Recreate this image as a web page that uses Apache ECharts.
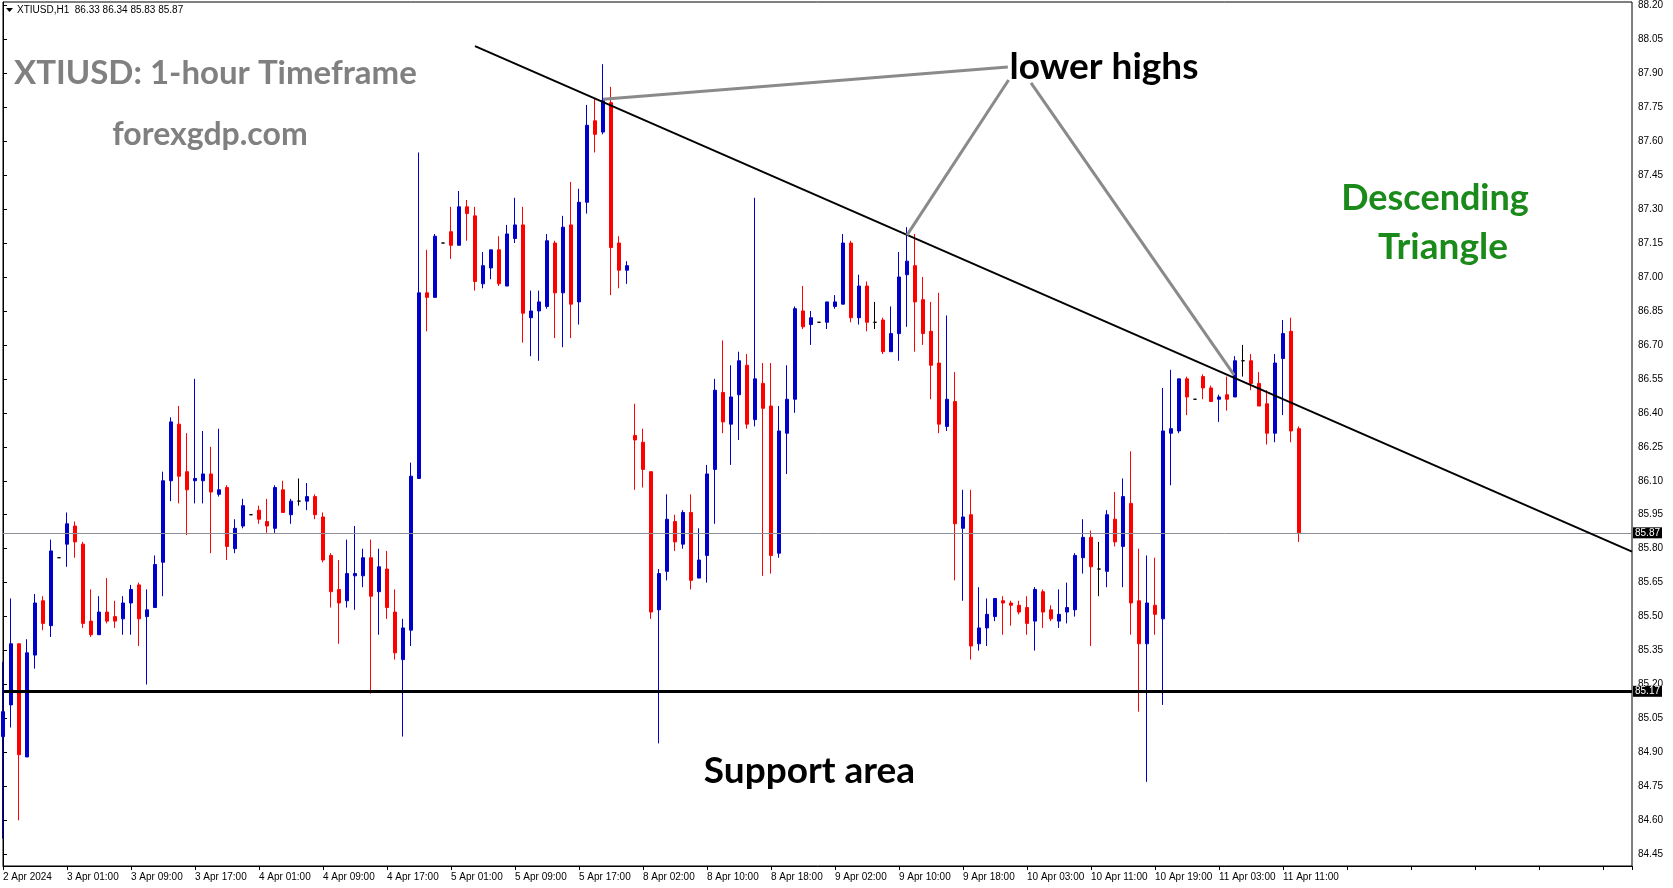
<!DOCTYPE html>
<html>
<head>
<meta charset="utf-8">
<title>XTIUSD H1</title>
<script src="https://cdn.jsdelivr.net/npm/echarts@6/dist/echarts.min.js"></script>
<style>
  html, body { margin: 0; padding: 0; background: #fff; }
  #chart { width: 1673px; height: 888px; }
</style>
</head>
<body>
<div id="chart"></div>
<script>
// H1 bars, bar 0 = 2 Apr 17:00
const openPrices = [
  84.97, 85.11, 85.38, 84.88, 85.33, 85.57, 85.46, 85.76, 85.82, 85.90,
  85.82, 85.48, 85.42, 85.52, 85.50, 85.49, 85.56, 85.64, 85.50, 85.54,
  85.74, 86.10, 86.35, 86.14, 86.10, 86.10, 86.13, 86.04, 86.07, 85.80,
  85.90, 85.95, 85.97, 85.92, 85.89, 86.06, 85.95, 86.01, 86.01, 86.03,
  85.94, 85.77, 85.62, 85.57, 85.68, 85.68, 85.76, 85.61, 85.71, 85.52,
  85.31, 85.44, 86.11, 86.93, 86.91, 87.15, 87.20, 87.14, 87.31, 87.27,
  86.97, 87.04, 87.12, 86.96, 87.17, 87.23, 86.82, 86.85, 86.87, 87.15,
  86.93, 87.23, 86.89, 87.33, 87.69, 87.64, 87.77, 87.15, 87.03, 86.30,
  86.27, 86.14, 85.53, 85.70, 85.92, 85.82, 85.96, 85.67, 85.77, 86.15,
  86.49, 86.35, 86.48, 86.61, 86.37, 86.53, 86.43, 85.78, 86.31, 86.46,
  86.85, 86.79, 86.80, 86.80, 86.87, 86.88, 87.15, 86.82, 86.96, 86.80,
  86.81, 86.67, 86.75, 87.01, 87.05, 86.90, 86.76, 86.62, 86.34, 86.45,
  85.89, 85.95, 85.38, 85.45, 85.50, 85.57, 85.56, 85.55, 85.54, 85.48,
  85.61, 85.53, 85.48, 85.52, 85.53, 85.76, 85.85, 85.71, 85.70, 85.93,
  85.81, 86.00, 85.57, 85.38, 85.55, 85.49, 86.31, 86.32, 86.55, 86.46,
  86.56, 86.51, 86.46, 86.48, 86.47, 86.63, 86.63, 86.53, 86.44, 86.31,
  86.64, 86.76, 86.33
];
const closePrices = [
  85.08, 85.38, 84.89, 85.34, 85.56, 85.47, 85.79, 85.76, 85.91, 85.83,
  85.47, 85.42, 85.52, 85.48, 85.48, 85.56, 85.62, 85.49, 85.53, 85.73,
  86.10, 86.36, 86.12, 86.06, 86.11, 86.13, 86.05, 86.06, 85.81, 85.89,
  85.99, 85.95, 85.93, 85.90, 86.07, 85.96, 86.01, 86.01, 86.03, 85.95,
  85.75, 85.61, 85.56, 85.69, 85.69, 85.76, 85.59, 85.72, 85.54, 85.34,
  85.45, 86.12, 86.93, 86.91, 87.18, 87.15, 87.14, 87.31, 87.28, 86.98,
  87.05, 87.12, 86.97, 87.19, 87.23, 86.84, 86.85, 86.89, 87.16, 86.93,
  87.22, 86.88, 87.33, 87.67, 87.63, 87.78, 87.13, 87.03, 87.05, 86.28,
  86.15, 85.52, 85.69, 85.93, 85.83, 85.96, 85.66, 85.75, 86.13, 86.50,
  86.36, 86.47, 86.63, 86.35, 86.55, 86.42, 85.77, 86.32, 86.46, 86.86,
  86.78, 86.82, 86.80, 86.89, 86.89, 87.15, 86.82, 86.96, 86.80, 86.80,
  86.67, 86.75, 87.00, 87.07, 86.89, 86.75, 86.61, 86.35, 86.46, 85.91,
  85.94, 85.37, 85.45, 85.51, 85.58, 85.56, 85.55, 85.52, 85.47, 85.62,
  85.52, 85.49, 85.51, 85.54, 85.77, 85.85, 85.72, 85.71, 85.95, 85.83,
  86.03, 85.56, 85.38, 85.56, 85.51, 86.32, 86.33, 86.55, 86.47, 86.46,
  86.51, 86.45, 86.47, 86.46, 86.63, 86.63, 86.53, 86.43, 86.31, 86.62,
  86.75, 86.32, 85.87
];
const lowPrices = [
  84.52, 85.01, 84.60, 84.88, 85.27, 85.44, 85.41, 85.76, 85.72, 85.76,
  85.45, 85.41, 85.42, 85.47, 85.45, 85.42, 85.42, 85.37, 85.20, 85.54,
  85.59, 86.01, 86.00, 85.86, 86.00, 86.00, 85.78, 86.03, 85.75, 85.78,
  85.89, 85.95, 85.91, 85.87, 85.87, 85.96, 85.91, 85.99, 85.97, 85.93,
  85.74, 85.54, 85.38, 85.54, 85.53, 85.63, 85.16, 85.42, 85.49, 85.31,
  84.97, 85.37, 86.11, 86.76, 86.91, 87.15, 87.08, 87.14, 87.16, 86.94,
  86.95, 86.99, 86.96, 86.96, 87.15, 86.71, 86.65, 86.63, 86.86, 86.73,
  86.69, 86.73, 86.79, 87.28, 87.55, 87.63, 86.92, 86.95, 86.97, 86.06,
  86.07, 85.49, 84.94, 85.66, 85.79, 85.80, 85.62, 85.67, 85.65, 85.91,
  86.31, 86.17, 86.28, 86.33, 86.34, 85.68, 85.69, 85.76, 86.13, 86.40,
  86.77, 86.70, 86.80, 86.77, 86.86, 86.88, 86.80, 86.79, 86.76, 86.77,
  86.66, 86.67, 86.63, 86.78, 86.67, 86.70, 86.46, 86.31, 86.32, 85.66,
  85.57, 85.31, 85.35, 85.37, 85.48, 85.42, 85.46, 85.51, 85.42, 85.35,
  85.45, 85.48, 85.45, 85.47, 85.50, 85.69, 85.37, 85.59, 85.63, 85.81,
  85.63, 85.42, 85.08, 84.77, 85.42, 85.11, 86.08, 86.31, 86.39, 86.46,
  86.46, 86.45, 86.36, 86.41, 86.47, 86.56, 86.50, 86.43, 86.26, 86.27,
  86.39, 86.27, 85.83
];
const highPrices = [
  85.30, 85.58, 85.38, 85.40, 85.60, 85.59, 85.84, 85.76, 85.96, 85.92,
  85.83, 85.62, 85.59, 85.67, 85.57, 85.59, 85.64, 85.65, 85.62, 85.77,
  86.14, 86.38, 86.43, 86.31, 86.55, 86.32, 86.25, 86.33, 86.08, 85.93,
  86.02, 85.95, 85.99, 86.02, 86.08, 86.10, 86.02, 86.11, 86.09, 86.04,
  85.96, 85.78, 85.75, 85.84, 85.90, 85.80, 85.84, 85.80, 85.79, 85.62,
  85.49, 86.18, 87.55, 87.12, 87.19, 87.15, 87.31, 87.38, 87.34, 87.31,
  87.11, 87.12, 87.18, 87.23, 87.35, 87.31, 86.94, 86.94, 87.19, 87.16,
  87.27, 87.42, 87.39, 87.76, 87.79, 87.94, 87.84, 87.18, 87.07, 86.44,
  86.33, 86.14, 85.71, 86.04, 85.95, 85.97, 86.04, 85.89, 86.17, 86.55,
  86.72, 86.61, 86.67, 86.66, 87.35, 86.62, 86.62, 86.43, 86.61, 86.87,
  86.96, 86.85, 86.80, 86.89, 86.92, 87.19, 87.16, 87.01, 86.98, 86.89,
  86.82, 86.87, 87.11, 87.22, 87.19, 87.00, 86.89, 86.93, 86.83, 86.58,
  86.06, 86.06, 85.63, 85.58, 85.58, 85.59, 85.57, 85.57, 85.59, 85.63,
  85.62, 85.55, 85.62, 85.65, 85.78, 85.93, 85.88, 85.83, 85.97, 86.05,
  86.11, 86.23, 85.80, 85.77, 85.76, 86.51, 86.59, 86.55, 86.56, 86.46,
  86.57, 86.52, 86.48, 86.56, 86.65, 86.70, 86.66, 86.58, 86.50, 86.66,
  86.81, 86.82, 86.34
];

// one label every 8 bars
const timeLabels = [
  '2 Apr 2024', '3 Apr 01:00', '3 Apr 09:00', '3 Apr 17:00', '4 Apr 01:00',
  '4 Apr 09:00', '4 Apr 17:00', '5 Apr 01:00', '5 Apr 09:00', '5 Apr 17:00',
  '8 Apr 02:00', '8 Apr 10:00', '8 Apr 18:00', '9 Apr 02:00', '9 Apr 10:00',
  '9 Apr 18:00', '10 Apr 03:00', '10 Apr 11:00', '10 Apr 19:00', '11 Apr 03:00',
  '11 Apr 11:00'
];
const priceTicks = [
  84.45, 84.60, 84.75, 84.90, 85.05, 85.20, 85.35, 85.50, 85.65, 85.80,
  85.95, 86.10, 86.25, 86.40, 86.55, 86.70, 86.85, 87.00, 87.15, 87.30,
  87.45, 87.60, 87.75, 87.90, 88.05, 88.20
];

const supportLevel = 85.17;
const lastPrice = 85.87;
// [bar, price] end points of the drawn lines
const trendLine = [[59, 88.02], [203.625, 85.787]];
const lowerHighLines = [
  [[125.6, 87.927], [75.0, 87.785]],
  [[125.7, 87.870], [113.0, 87.185]],
  [[128.5, 87.857], [153.9, 86.567]]
];

const candles = openPrices.map((o, i) => {
  const item = { value: [i, o, closePrices[i], lowPrices[i], highPrices[i]] };
  if (o === closePrices[i]) {
    item.itemStyle = { color: '#000', borderColor: '#000' };
  }
  return item;
});

const priceBox = (text) => ({
  show: true,
  position: 'end',
  distance: 1,
  formatter: text,
  color: '#fff',
  backgroundColor: '#000',
  padding: [1, 2, 0, 2],
  fontSize: 10,
  fontFamily: 'Liberation Sans'
});

const grayLine = { color: '#8a8a8a', width: 3, type: 'solid' };

const chart = echarts.init(document.getElementById('chart'));
chart.setOption({
  animation: false,
  backgroundColor: '#fff',
  grid: {
    left: 3, top: 2, right: 41, bottom: 22,
    show: true, borderColor: '#000', borderWidth: 1, backgroundColor: '#fff'
  },
  xAxis: {
    type: 'value',
    min: 0,
    max: 203.625,
    interval: 8,
    axisLine: { show: true, lineStyle: { color: '#000', width: 1 } },
    axisTick: { show: true, length: 4, lineStyle: { color: '#000' } },
    axisLabel: {
      formatter: (v) => timeLabels[v / 8] || '',
      align: 'left',
      margin: 6,
      fontSize: 10,
      fontFamily: 'Liberation Sans',
      color: '#000'
    },
    splitLine: { show: false }
  },
  yAxis: {
    type: 'value',
    position: 'right',
    min: 84.3984,
    max: 88.2146,
    axisLine: { show: true, lineStyle: { color: '#000', width: 1 } },
    axisTick: { show: true, length: 4, customValues: priceTicks, lineStyle: { color: '#000' } },
    axisLabel: {
      customValues: priceTicks,
      formatter: (v) => v.toFixed(2),
      margin: 6,
      fontSize: 10,
      fontFamily: 'Liberation Sans',
      color: '#000'
    },
    splitLine: { show: false }
  },
  series: [
    {
      type: 'candlestick',
      data: candles,
      barWidth: 4,
      itemStyle: {
        color: '#0000cd',
        color0: '#ff0000',
        borderColor: '#0000cd',
        borderColor0: '#ff0000',
        borderColorDoji: '#000',
        borderWidth: 1
      },
      markLine: {
        silent: true,
        symbol: ['none', 'none'],
        animation: false,
        label: { show: false },
        emphasis: { disabled: true },
        data: [
          { yAxis: lastPrice, lineStyle: { color: '#8c9199', width: 1, type: 'solid' }, label: priceBox('85.87') },
          { yAxis: supportLevel, lineStyle: { color: '#000', width: 3, type: 'solid' }, label: priceBox('85.17') },
          [
            { coord: trendLine[0], lineStyle: { color: '#000', width: 2, type: 'solid' } },
            { coord: trendLine[1] }
          ],
          ...lowerHighLines.map((l) => [
            { coord: l[0], lineStyle: grayLine },
            { coord: l[1] }
          ])
        ]
      }
    }
  ],
  graphic: [
    { type: 'polygon', z: 100, shape: { points: [[6, 8], [13, 8], [9.5, 12]] }, style: { fill: '#000' } },
    { type: 'text', z: 100, x: 17, y: 10.5, style: { text: 'XTIUSD,H1  86.33 86.34 85.83 85.87', font: '10px "Liberation Sans"', fill: '#000', verticalAlign: 'middle' } },
    { type: 'text', z: 100, x: 14, y: 73.7, style: { text: 'XTIUSD: 1-hour Timeframe', font: 'bold 33px Lato', fill: '#808080', verticalAlign: 'middle' } },
    { type: 'text', z: 100, x: 210, y: 134.4, style: { text: 'forexgdp.com', font: 'bold 32px Lato', fill: '#808080', align: 'center', verticalAlign: 'middle' } },
    { type: 'text', z: 100, x: 1104, y: 67, style: { text: 'lower highs', font: 'bold 37px Lato', fill: '#000', align: 'center', verticalAlign: 'middle' } },
    { type: 'text', z: 100, x: 1435, y: 198, style: { text: 'Descending', font: 'bold 36px Lato', fill: '#1a8a1a', align: 'center', verticalAlign: 'middle' } },
    { type: 'text', z: 100, x: 1443, y: 247, style: { text: 'Triangle', font: 'bold 37px Lato', fill: '#1a8a1a', align: 'center', verticalAlign: 'middle' } },
    { type: 'text', z: 100, x: 809.5, y: 771, style: { text: 'Support area', font: 'bold 37px Lato', fill: '#000', align: 'center', verticalAlign: 'middle' } }
  ]
});
</script>
</body>
</html>
